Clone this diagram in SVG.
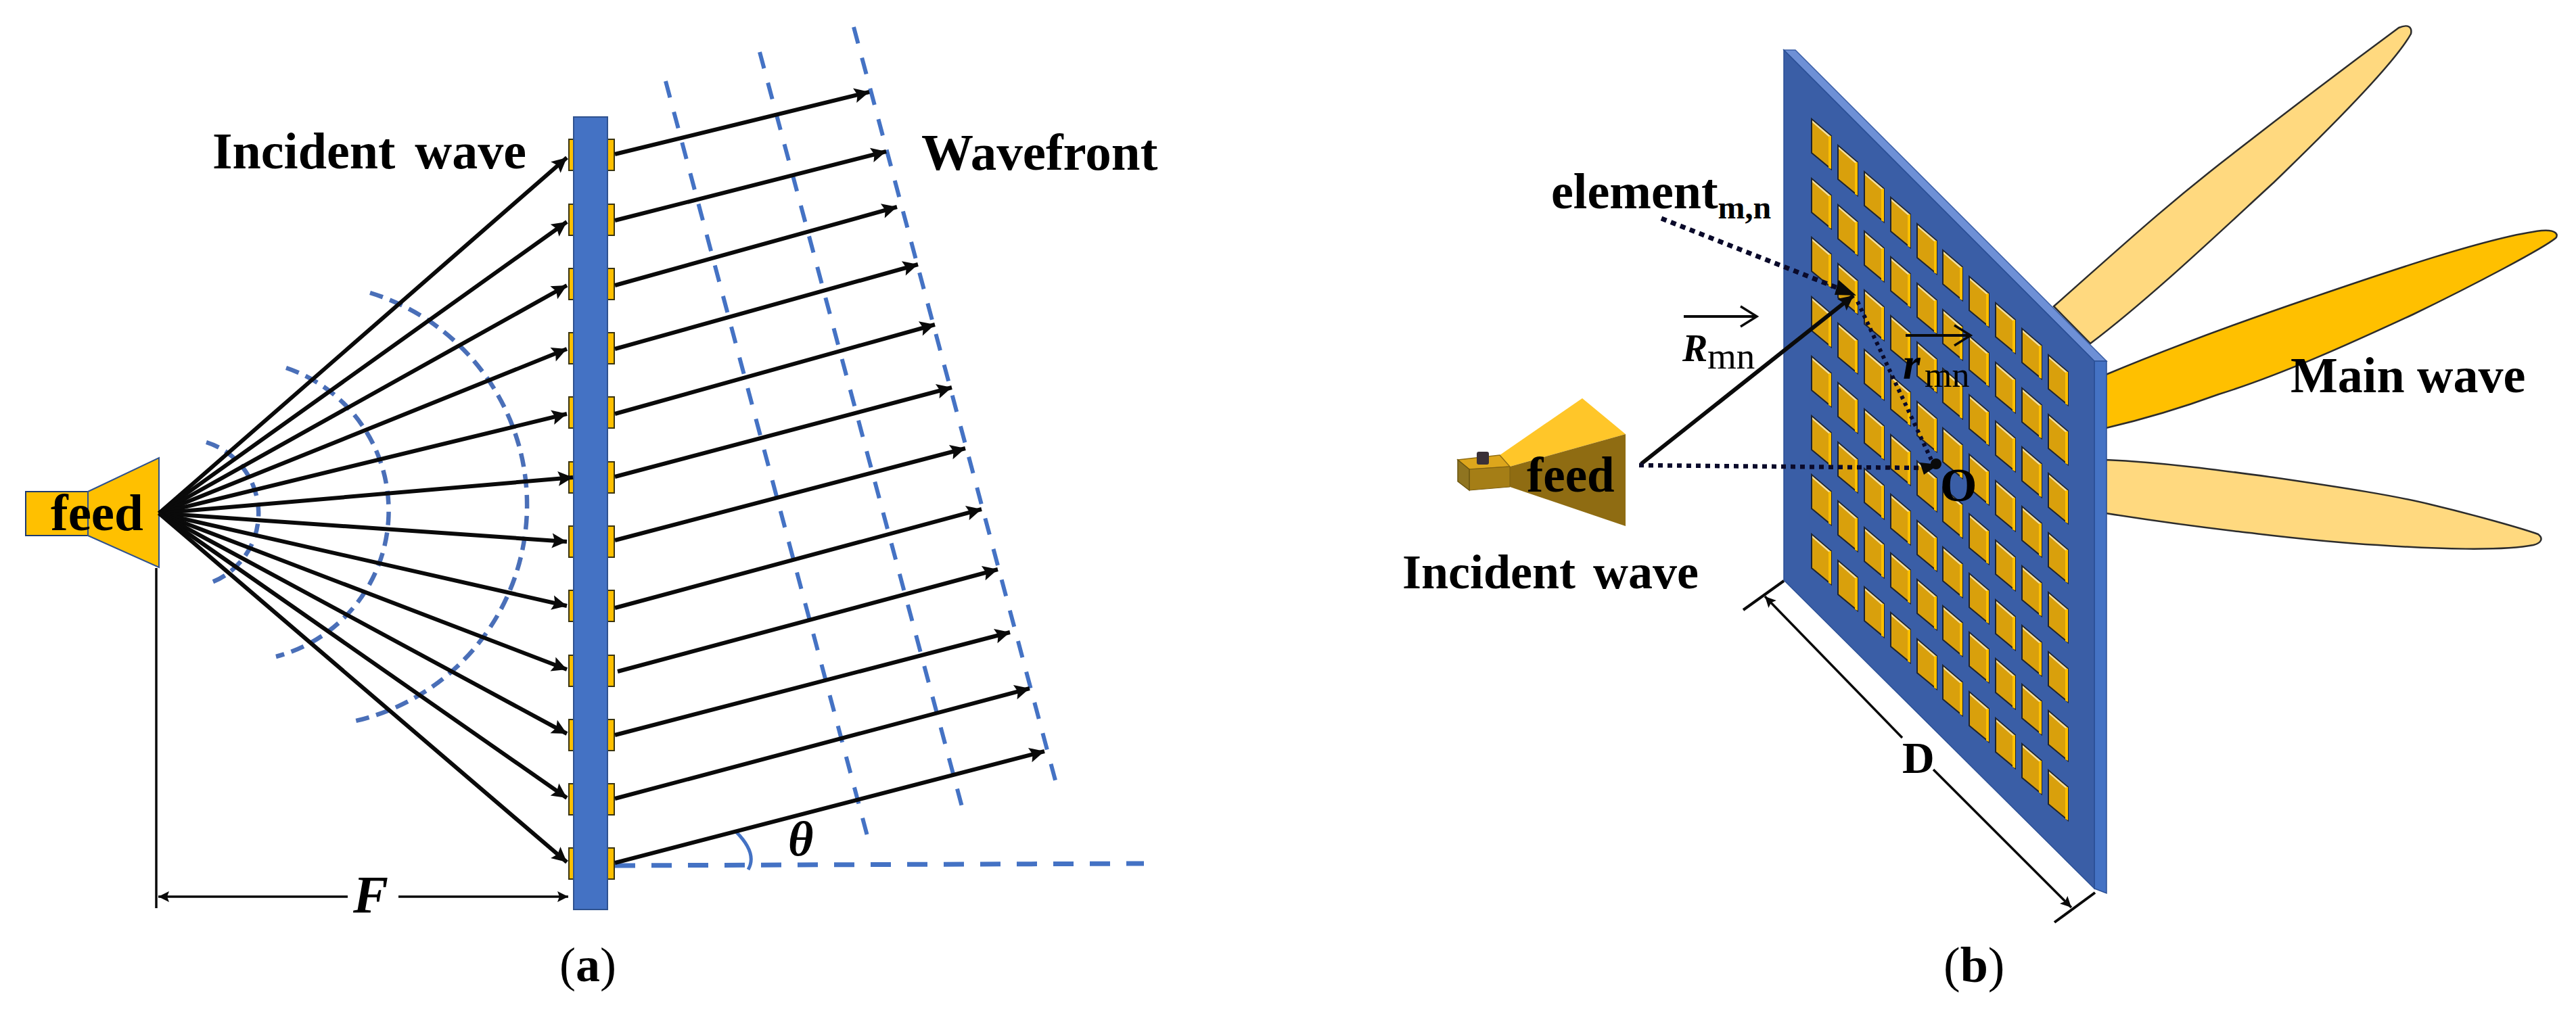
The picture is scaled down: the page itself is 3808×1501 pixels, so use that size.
<svg xmlns="http://www.w3.org/2000/svg" xmlns:xlink="http://www.w3.org/1999/xlink" width="3808" height="1501" viewBox="0 0 3808 1501">
<style>
text{font-family:"Liberation Serif","Times New Roman",serif;fill:#000}
.b{font-weight:bold}
.ray{stroke:#0a0a0a;stroke-width:6;fill:none;marker-end:url(#head)}
.thin{stroke:#0a0a0a;stroke-width:3.5;fill:none;marker-end:url(#headS)}
.front{stroke:#4472C4;stroke-width:6;fill:none;stroke-dasharray:25 22}
.arc{stroke:#4A6FB8;stroke-width:6.5;fill:none;stroke-dasharray:20 11}
.el{fill:#FFC000;stroke:#3a3410;stroke-width:2}
.dot{stroke:#0a0a2a;fill:none}
.lobe{stroke:#2c2c2c;stroke-width:2.5}
</style>
<defs>
<marker id="head" markerUnits="userSpaceOnUse" markerWidth="26" markerHeight="26" viewBox="0 0 26 26" refX="24" refY="13" orient="auto"><path d="M2 2L24 13L2 24L6 13z" fill="#0a0a0a"/></marker>
<marker id="headS" markerUnits="userSpaceOnUse" markerWidth="20" markerHeight="20" viewBox="0 0 20 20" refX="18" refY="10" orient="auto"><path d="M2 2L18 10L2 18L5 10z" fill="#0a0a0a"/></marker>
<marker id="open" markerUnits="userSpaceOnUse" markerWidth="34" markerHeight="36" viewBox="0 0 34 36" refX="30" refY="18" orient="auto"><path d="M6 3L30 18L6 33" fill="none" stroke="#0a0a0a" stroke-width="3.5"/></marker>
<g id="patch">
<polygon points="0,0 29,25 29,74 0,50" fill="#D9A00C" stroke="#1e2430" stroke-width="2"/>
<polygon points="25,25 29,25 29,74 25,72" fill="#FFC000"/>
<polygon points="1,2 28,25 25,26 1,5" fill="#F2DFA0"/>
</g>
<g id="col">
<use href="#patch" y="176"/><use href="#patch" y="264"/><use href="#patch" y="351"/><use href="#patch" y="439"/>
<use href="#patch" y="527"/><use href="#patch" y="615"/><use href="#patch" y="702"/><use href="#patch" y="790"/>
</g>
</defs>
<rect width="3808" height="1501" fill="#fff"/>

<g id="reflectarray-a">
<rect class="el" x="841" y="206" width="67" height="46"/><rect class="el" x="841" y="302" width="67" height="46"/>
<rect class="el" x="841" y="397" width="67" height="46"/><rect class="el" x="841" y="492" width="67" height="46"/>
<rect class="el" x="841" y="587" width="67" height="46"/><rect class="el" x="841" y="683" width="67" height="46"/>
<rect class="el" x="841" y="778" width="67" height="46"/><rect class="el" x="841" y="873" width="67" height="46"/>
<rect class="el" x="841" y="969" width="67" height="46"/><rect class="el" x="841" y="1064" width="67" height="46"/>
<rect class="el" x="841" y="1159" width="67" height="46"/><rect class="el" x="841" y="1254" width="67" height="46"/>
<rect x="848" y="173" width="50" height="1172" fill="#4472C4" stroke="#2F528F" stroke-width="2"/>
</g>
<g id="feed-a">
<rect x="38" y="727" width="92" height="65" fill="#FFC000" stroke="#1f3b6e" stroke-width="2"/>
<polygon points="130,727 235,677 235,839 130,792" fill="#FFC000" stroke="#2F528F" stroke-width="2"/>
<text class="b" x="75" y="784" font-size="77">feed</text>
</g>
<g id="wavefronts-a">
<path class="arc" d="M305 654A110 110 0 0 1 308 863"/>
<path class="arc" d="M423 544A223 223 0 0 1 408 971"/>
<path class="arc" d="M547 433A328 328 0 0 1 526 1066"/>
<path class="front" d="M984 120L1285 1247"/>
<path class="front" d="M1123 77L1425 1204"/>
<path class="front" d="M1262 40L1563 1165"/>
<path d="M909 1280L1691 1277" fill="none" stroke="#4472C4" stroke-width="7" stroke-dasharray="30 24"/>
<path d="M1088 1230Q1120 1262 1106 1286" fill="none" stroke="#4472C4" stroke-width="5"/>
</g>
<g id="connectors">
<g id="incident-rays">
<path class="ray" d="M235 759L838 233"/><path class="ray" d="M235 759L838 328"/><path class="ray" d="M235 759L838 422"/>
<path class="ray" d="M235 759L838 516"/><path class="ray" d="M235 759L838 612"/><path class="ray" d="M235 759L847 706"/>
<path class="ray" d="M235 759L838 801"/><path class="ray" d="M235 759L838 896"/><path class="ray" d="M235 759L838 990"/>
<path class="ray" d="M235 759L838 1085"/><path class="ray" d="M235 759L838 1180"/><path class="ray" d="M235 759L838 1275"/>
</g>
<g id="outgoing-rays">
<path class="ray" d="M909 228L1285 136"/><path class="ray" d="M909 326L1310 224"/><path class="ray" d="M909 422L1326 306"/>
<path class="ray" d="M909 516L1357 391"/><path class="ray" d="M909 612L1382 480"/><path class="ray" d="M909 705L1407 573"/>
<path class="ray" d="M909 799L1427 663"/><path class="ray" d="M909 899L1451 753"/><path class="ray" d="M913 993L1475 842"/>
<path class="ray" d="M909 1087L1493 935"/><path class="ray" d="M909 1181L1522 1018"/><path class="ray" d="M909 1276L1544 1111"/>
</g>
<path d="M231 840V1343" fill="none" stroke="#0a0a0a" stroke-width="3.5"/>
<path class="thin" d="M514 1326H234"/><path class="thin" d="M589 1326H840"/>
</g>
<text id="label-incident-a" class="b" x="314" y="249" font-size="76" word-spacing="10">Incident wave</text>
<text id="label-wavefront" class="b" x="1362" y="251" font-size="77">Wavefront</text>
<text id="label-theta" class="b" x="1165" y="1265" font-size="72" font-style="italic">θ</text>
<text id="label-F" class="b" x="522" y="1349" font-size="78" font-style="italic">F</text>
<text id="caption-a" x="827" y="1451" font-size="72">(<tspan class="b">a</tspan>)</text>

<g id="lobes-b">
<path class="lobe" fill="#FFD97F" d="M3036 453C3130 370 3200 305 3300 228C3400 150 3500 75 3546 41C3560 35 3566 40 3564 50C3545 85 3470 165 3361 270C3290 335 3180 440 3090 508z"/>
<path class="lobe" fill="#FFC000" d="M3113 554C3230 505 3330 470 3412 442C3520 405 3680 350 3757 341C3780 339 3782 348 3778 352C3760 367 3660 420 3567 465C3470 510 3370 555 3280 583C3220 605 3160 622 3113 633z"/>
<path class="lobe" fill="#FFD97F" d="M3113 680C3200 684 3280 695 3361 706C3470 722 3540 733 3593 746C3660 762 3730 782 3752 790C3760 796 3757 803 3745 806C3700 815 3600 812 3515 806C3430 801 3370 793 3309 786C3240 778 3170 768 3113 759z"/>
</g>
<g id="panel-b">
<polygon points="2637,74 2654,74 3114,534 3096,534" fill="#6E90D6" stroke="#3a5ea6" stroke-width="1.5"/>
<polygon points="3096,534 3114,534 3114,1321 3096,1314" fill="#4472C4" stroke="#2a4f95" stroke-width="1.5"/>
<polygon points="2637,74 3096,534 3096,1314 2637,858" fill="#3A5EA6" stroke="#2a4f95" stroke-width="1.5"/>
<g id="patches">
<use href="#col" x="2678" y="0"/><use href="#col" x="2717" y="39"/><use href="#col" x="2756" y="78"/><use href="#col" x="2795" y="116"/><use href="#col" x="2834" y="155"/>
<use href="#col" x="2872" y="194"/><use href="#col" x="2911" y="233"/><use href="#col" x="2950" y="272"/><use href="#col" x="2989" y="310"/><use href="#col" x="3028" y="349"/>
</g>
</g>
<g id="feed-b">
<polygon points="2217,673 2339,589 2403,642 2232,690" fill="#FFC629"/>
<polygon points="2232,690 2403,642 2403,778 2232,720" fill="#8F6C12"/>
<polygon points="2155,680 2217,673 2232,690 2172,694" fill="#DDA61C" stroke="#8f6c12" stroke-width="1.5"/>
<polygon points="2172,694 2232,690 2232,720 2172,725" fill="#A57E16" stroke="#7d5f10" stroke-width="1"/>
<polygon points="2155,680 2172,694 2172,725 2155,712" fill="#8F7420" stroke="#6b5510" stroke-width="1.5"/>
<rect x="2183" y="668" width="18" height="19" rx="3" fill="#3a3038"/>
<text class="b" x="2257" y="727" font-size="73">feed</text>
</g>
<g id="connectors-b">
<path class="ray" d="M2426 686L2740 437"/>
<path class="dot" d="M2456 323L2722 428" stroke-width="7" stroke-dasharray="8 7"/>
<path d="M2718 414L2744 437L2712 436z" fill="#0a0a0a" stroke="none"/>
<path class="dot" d="M2746 446L2855 680" stroke-width="6" stroke-dasharray="5 6"/>
<path class="dot" d="M2423 688L2846 692" stroke-width="6.5" stroke-dasharray="7 7"/>
<path d="M2838 684L2866 687L2844 702z" fill="#0a0a0a"/>
<circle cx="2862" cy="686" r="8" fill="#0a0a0a"/>
<path d="M2489 468H2597" fill="none" stroke="#0a0a0a" stroke-width="4" marker-end="url(#open)"/>
<path d="M2817 496H2913" fill="none" stroke="#0a0a0a" stroke-width="4" marker-end="url(#open)"/>
<path d="M2637 859L2577 902" fill="none" stroke="#0a0a0a" stroke-width="4"/>
<path d="M3097 1320L3037 1364" fill="none" stroke="#0a0a0a" stroke-width="4"/>
<path class="thin" d="M2812 1091L2609 882"/>
<path class="thin" d="M2858 1138L3062 1342"/>
</g>
<text id="label-incident-b" class="b" x="2073" y="870" font-size="72" word-spacing="8">Incident wave</text>
<text id="label-element" class="b" x="2293" y="308" font-size="74">element<tspan font-size="48" dy="15">m,n</tspan></text>
<text id="label-R" x="2487" y="534" font-size="56" class="b" font-style="italic">R</text>
<text id="label-Rmn" x="2524" y="545" font-size="55">mn</text>
<text id="label-r" x="2813" y="560" font-size="66" class="b" font-style="italic">r</text>
<text id="label-rmn" x="2845" y="572" font-size="52">mn</text>
<text id="label-O" x="2868" y="741" font-size="70" class="b">O</text>
<text id="label-D" x="2812" y="1143" font-size="66" class="b">D</text>
<text id="label-main" x="3386" y="580" font-size="74" class="b">Main wave</text>
<text id="caption-b" x="2873" y="1452" font-size="74">(<tspan class="b">b</tspan>)</text>
</svg>
